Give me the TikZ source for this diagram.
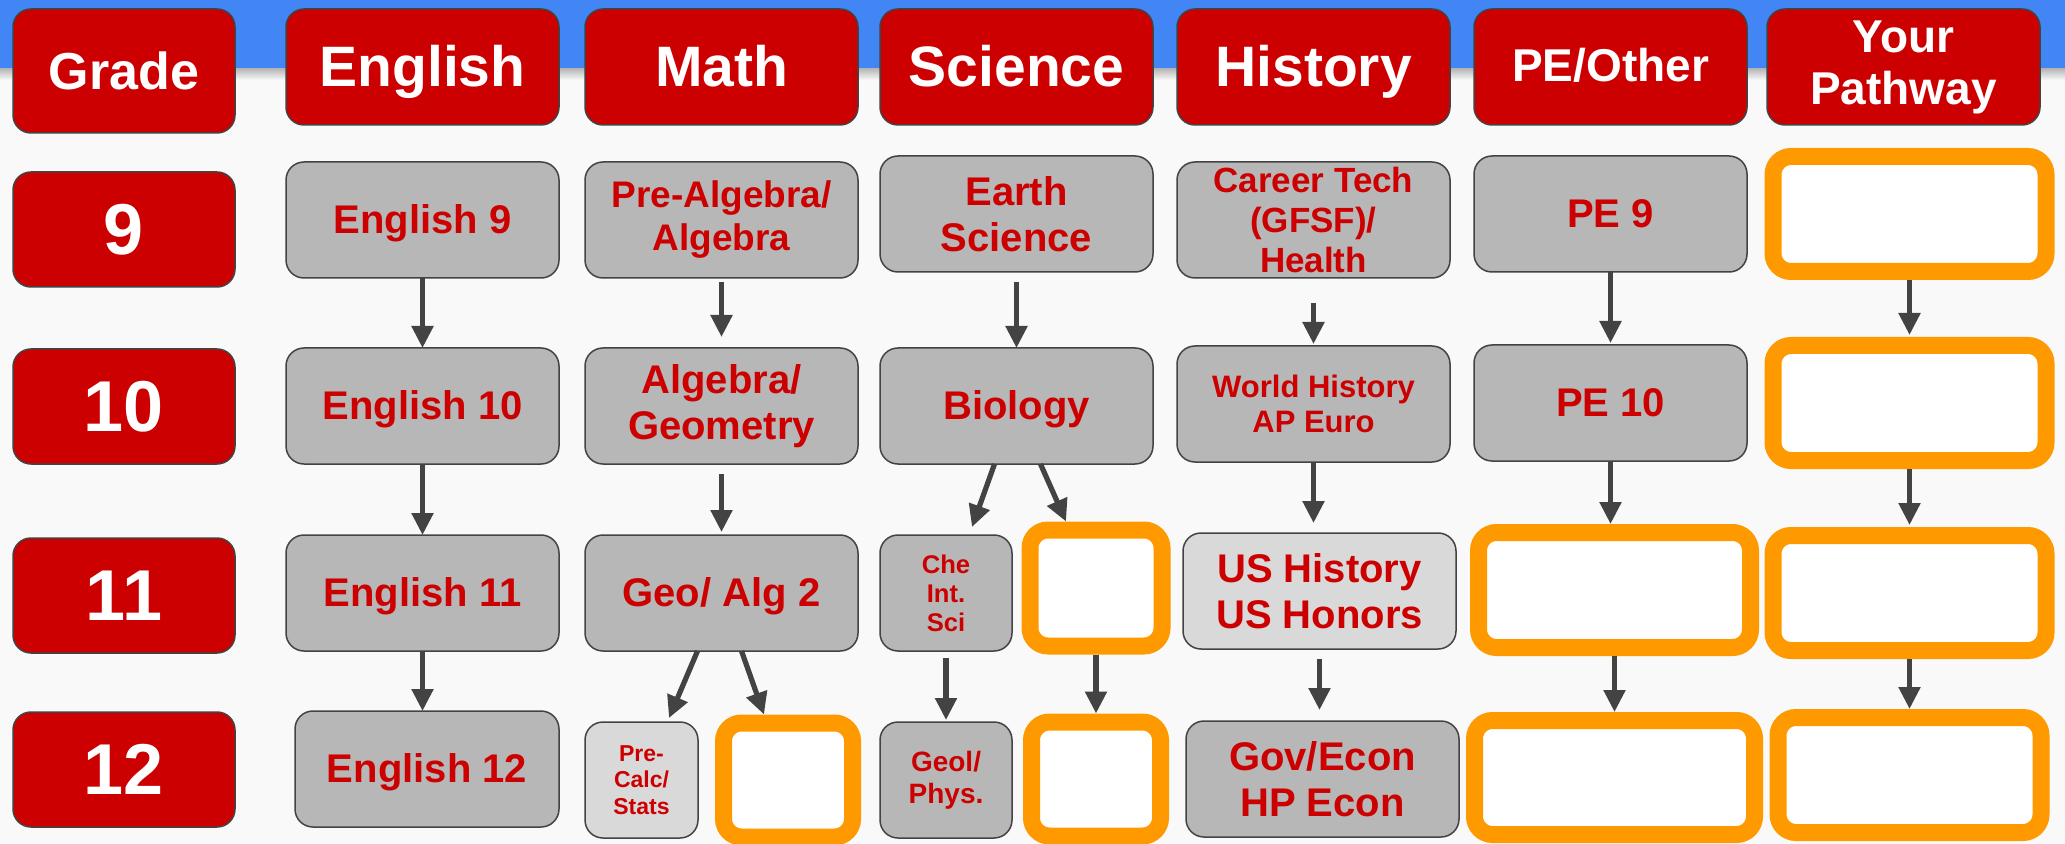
\documentclass[tikz,border=0pt]{standalone}
\usepackage{fontspec}
\setmainfont{Liberation Sans}
\usepackage{tikz}
\usetikzlibrary{arrows.meta, positioning}
\definecolor{bandblue}{RGB}{66,133,244}
\definecolor{pagebg}{RGB}{249,249,249}
\definecolor{redfill}{RGB}{204,0,0}
\definecolor{edgecol}{RGB}{67,67,67}
\definecolor{coursecol}{RGB}{183,183,183}
\definecolor{optcol}{RGB}{217,217,217}
\definecolor{slotcol}{RGB}{255,153,0}

\begin{document}
\begin{tikzpicture}[
  head/.style={rectangle, draw=edgecol, line width=0.75pt, fill=redfill, text=white,
               rounded corners=9pt, minimum width=136.5pt, minimum height=58pt,
               align=center, inner sep=2pt, outer sep=0pt,
               font=\bfseries\fontsize{28.5}{32}\selectfont},
  headline/.style={text height=25.6pt, text depth=5.6pt},
  grade/.style={head, minimum width=111pt, minimum height=57.5pt,
                font=\bfseries\fontsize{36}{40}\selectfont},
  crs/.style={rectangle, draw=edgecol, line width=0.75pt, fill=coursecol, text=redfill,
              rounded corners=9pt, minimum width=136.5pt, minimum height=58pt,
              align=center, inner sep=2pt, outer sep=0pt,
              font=\bfseries\fontsize{20}{23}\selectfont},
  crsline/.style={text height=18pt, text depth=4.5pt},
  opt/.style={crs, fill=optcol},
  slot/.style={rectangle, draw=slotcol, line width=8.5pt, fill=white,
               rounded corners=9pt, minimum width=136.5pt, minimum height=57.5pt},
  arr/.style={-{Triangle[length=11pt, width=10.5pt]}, line width=2.6pt, edgecol},
]
% Page and top band
\fill[pagebg] (0,0) rectangle (1032.5pt,-422pt);
\shade[top color=black!30, bottom color=pagebg] (0,-34pt) rectangle (1032.5pt,-40pt);
\fill[bandblue] (0,0) rectangle (1032.5pt,-34pt);
\useasboundingbox (0,0) rectangle (1032.5pt,-422pt);

% Header row
\node[head, minimum width=111pt, minimum height=62pt, text height=23.4pt, text depth=4.4pt,
      font=\bfseries\fontsize{26}{30}\selectfont] (hgrade) at (62pt,-35.5pt) {Grade};
\node[head, headline, right=25.5pt of hgrade, yshift=2pt] (heng) {English};
\node[head, headline, right=13pt of heng] (hmath) {Math};
\node[head, headline, right=11pt of hmath] (hsci) {Science};
\node[head, headline, right=12pt of hsci] (hhist) {History};
\node[head, right=12pt of hhist, text height=20.7pt, text depth=5.7pt,
      font=\bfseries\fontsize{23}{26}\selectfont] (hpe) {PE/Other};
\node[head, right=10pt of hpe, font=\bfseries\fontsize{23}{26}\selectfont] (hpath) {Your\\Pathway};

% Grades
\node[grade, below=19.5pt of hgrade] (g9) {9};
\node[grade, below=31pt of g9] (g10) {10};
\node[grade, below=37pt of g10] (g11) {11};
\node[grade, below=29.5pt of g11] (g12) {12};

% English
\node[crs, crsline, below=18.5pt of heng] (eng9) {English 9};
\node[crs, crsline, below=35pt of eng9] (eng10) {English 10};
\node[crs, crsline, below=35.5pt of eng10] (eng11) {English 11};
\node[crs, crsline, below=30pt of eng11, xshift=2.25pt, minimum width=132pt] (eng12) {English 12};

% Math
\node[crs, below=18.5pt of hmath, font=\bfseries\fontsize{18.5}{21.5}\selectfont] (prealg) {Pre-Algebra/\\Algebra};
\node[crs, below=35pt of prealg] (alggeo) {Algebra/\\Geometry};
\node[crs, crsline, below=35.5pt of alggeo] (geoalg) {Geo/ Alg 2};
\node[opt, below right=35.5pt and 0pt of geoalg.south west, minimum width=56.5pt,
      font=\bfseries\fontsize{11.5}{13.25}\selectfont] (precalc) {Pre-\\Calc/\\Stats};
\node[slot, right=8.5pt of precalc, minimum width=64.5pt, minimum height=57pt] (mslot) {};

% Science
\node[crs, below=15.5pt of hsci] (earth) {Earth\\Science};
\node[crs, crsline, below=38pt of earth] (bio) {Biology};
\node[crs, below right=35.5pt and 0pt of bio.south west, minimum width=66pt,
      font=\bfseries\fontsize{12.8}{14.5}\selectfont] (chem) {Che\\Int.\\Sci};
\node[slot, right=4.75pt of chem, yshift=2.5pt, minimum width=66pt, minimum height=58pt] (sslot1) {};
\node[crs, below right=35.5pt and 0pt of chem.south west, minimum width=66pt,
      font=\bfseries\fontsize{14}{16}\selectfont] (geol) {Geol/\\Phys.};
\node[slot, below=29.5pt of sslot1, minimum width=64.5pt, minimum height=57pt] (sslot2) {};

% History
\node[crs, below=18.5pt of hhist, font=\bfseries\fontsize{17.5}{20}\selectfont] (career) {Career Tech\\(GFSF)/\\Health};
\node[crs, below=34pt of career, font=\bfseries\fontsize{15.5}{17.5}\selectfont] (world) {World History\\AP Euro};
\node[opt, below=35.5pt of world, xshift=3pt] (ushist) {US History\\US Honors};
\node[crs, below=36pt of ushist, xshift=1.5pt] (gov) {Gov/Econ\\HP Econ};

% PE
\node[crs, crsline, below=15.5pt of hpe] (pe9) {PE 9};
\node[crs, crsline, below=36.5pt of pe9] (pe10) {PE 10};
\node[slot, below=31.5pt of pe10, xshift=2pt, minimum width=136pt] (peslot1) {};
\node[slot, below=28pt of peslot1, minimum width=140pt, minimum height=57pt] (peslot2) {};

% Pathway
\node[slot, below=11.5pt of hpath, xshift=3pt] (pslot9) {};
\node[slot, below=28.5pt of pslot9] (pslot10) {};
\node[slot, below=29pt of pslot10] (pslot11) {};
\node[slot, below=25pt of pslot11, minimum width=131.5pt] (pslot12) {};

% Arrows
\draw[arr] (eng9) -- (eng10);
\draw[arr] (eng10) -- (eng11);
\draw[arr] (eng11.south) -- (eng11.south |- eng12.north);

\draw[arr, shorten <=2pt, shorten >=5.5pt] (prealg) -- (alggeo);
\draw[arr, shorten <=5pt, shorten >=1.5pt] (alggeo) -- (geoalg);
\draw[arr] ([xshift=-12pt]geoalg.south) -- ([xshift=13.75pt, yshift=2pt]precalc.north);
\draw[arr] ([xshift=10pt]geoalg.south) -- ([xshift=-12pt]mslot.north);

\draw[arr, shorten <=5pt] (earth) -- (bio);
\draw[arr] ([xshift=-11pt]bio.south) -- ([xshift=13pt, yshift=4pt]chem.north);
\draw[arr] ([xshift=12pt]bio.south) -- ([xshift=-15pt]sslot1.north);
\draw[arr, shorten <=3.5pt, shorten >=1pt] (chem) -- (geol);
\draw[arr] (sslot1) -- (sslot2);

\draw[arr, shorten <=12.5pt, shorten >=1pt] (career) -- (world);
\draw[arr, shorten >=5pt] (world.south) -- (world.south |- ushist.north);
\draw[arr, shorten <=5pt, shorten >=5.5pt] (ushist.south) -- (ushist.south |- gov.north);

\draw[arr, shorten >=1pt] (pe9) -- (pe10);
\draw[arr] (pe10.south) -- (pe10.south |- peslot1.north);
\draw[arr] (peslot1) -- (peslot2);

\draw[arr, shorten >=1pt] (pslot9) -- (pslot10);
\draw[arr, shorten >=1pt] (pslot10) -- (pslot11);
\draw[arr] (pslot11) -- (pslot12);
\end{tikzpicture}
\end{document}
